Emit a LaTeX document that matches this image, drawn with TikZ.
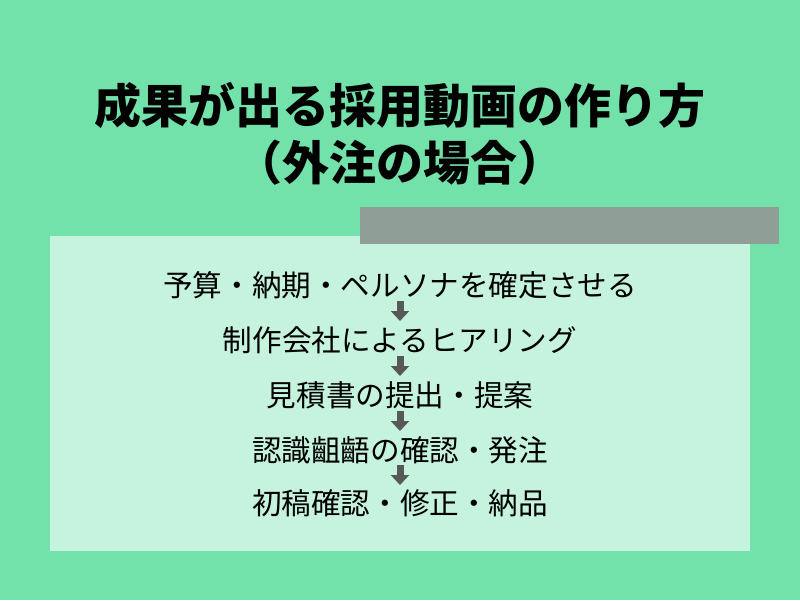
\documentclass[tikz,border=0pt]{standalone}
\usepackage{fontspec}
\newfontfamily\jp{Noto Sans CJK JP}
\usetikzlibrary{arrows.meta}
\definecolor{bggreen}{RGB}{114,225,170}
\definecolor{boxgreen}{RGB}{198,243,222}
\definecolor{bargray}{RGB}{143,158,150}
\definecolor{arrowgray}{RGB}{88,88,88}
\tikzset{
  titletext/.style={font=\jp\bfseries\fontsize{47}{50}\selectfont, text=black, inner sep=0pt},
  steptext/.style={font=\jp\fontsize{29.6}{32}\selectfont, text=black, inner sep=0pt},
  blockarrow/.style={draw=arrowgray, line width=7pt, -{Triangle[width=18pt,length=10pt]}}
}
\begin{document}
\begin{tikzpicture}[x=1pt,y=-1pt]
\useasboundingbox (0,0) rectangle (800,600);
\fill[bggreen] (0,0) rectangle (800,600);
\fill[boxgreen] (50,236) rectangle (750,551);
\fill[bargray] (360,207) rectangle (779,244);
\node[titletext] (t1) at (400,105) {成果が出る採用動画の作り方};
\node[titletext] (t2) at (400,163) {（外注の場合）};
\node[steptext] (s1) at (400,285) {予算・納期・ペルソナを確定させる};
\node[steptext] (s2) at (400,340) {制作会社によるヒアリング};
\node[steptext] (s3) at (400,395) {見積書の提出・提案};
\node[steptext] (s4) at (400,450) {認識齟齬の確認・発注};
\node[steptext] (s5) at (400,503) {初稿確認・修正・納品};
\coordinate (a1s) at (400,301); \coordinate (a1e) at (400,321);
\coordinate (a2s) at (400,356); \coordinate (a2e) at (400,376);
\coordinate (a3s) at (400,411); \coordinate (a3e) at (400,431);
\coordinate (a4s) at (400,465); \coordinate (a4e) at (400,485);
\draw[blockarrow] (a1s) -- (a1e);
\draw[blockarrow] (a2s) -- (a2e);
\draw[blockarrow] (a3s) -- (a3e);
\draw[blockarrow] (a4s) -- (a4e);
\end{tikzpicture}
\end{document}
